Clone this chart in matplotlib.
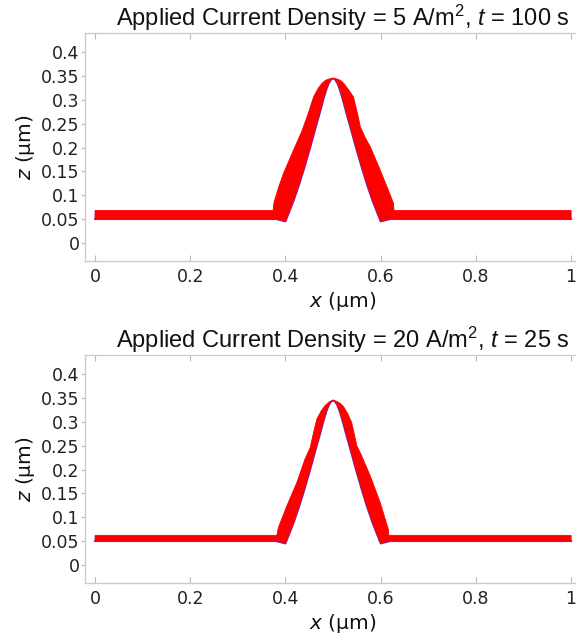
import matplotlib
matplotlib.use("Agg")
import matplotlib.pyplot as plt
from matplotlib.ticker import FuncFormatter

plt.rcParams["font.family"] = ["DejaVu Sans"]
plt.rcParams["mathtext.fontset"] = "custom"
plt.rcParams["mathtext.rm"] = "Liberation Sans"
plt.rcParams["mathtext.it"] = "Liberation Sans:italic"

# initial surface profile (blue), shared by both panels
inner_x = [0.0, 0.38, 0.392, 0.40, 0.408, 0.417, 0.428, 0.438, 0.452, 0.463, 0.472,
           0.48, 0.486, 0.491, 0.496, 0.5, 0.504, 0.509, 0.514, 0.52, 0.528, 0.537,
           0.548, 0.562, 0.572, 0.583, 0.592, 0.60, 0.608, 0.62, 1.0]
inner_z = [0.05, 0.05, 0.047, 0.045, 0.065, 0.088, 0.12, 0.152, 0.2, 0.24, 0.272,
           0.302, 0.322, 0.335, 0.343, 0.345, 0.343, 0.335, 0.322, 0.302, 0.272, 0.24,
           0.2, 0.152, 0.12, 0.088, 0.065, 0.045, 0.047, 0.05, 0.05]

# outer envelope of the evolving profiles (red band), 5 A/m^2
outer_x_5 = [0.0, 0.374, 0.376, 0.385, 0.396, 0.417, 0.434, 0.448, 0.459, 0.468, 0.476,
             0.484, 0.492, 0.5, 0.508, 0.515, 0.522, 0.532, 0.543, 0.548, 0.553, 0.557,
             0.567, 0.578, 0.599, 0.613, 0.627, 0.628, 1.0]
outer_z_5 = [0.068, 0.068, 0.085, 0.115, 0.146, 0.195, 0.233, 0.272, 0.306, 0.323, 0.334,
             0.341, 0.344, 0.345, 0.344, 0.341, 0.335, 0.322, 0.306, 0.285, 0.264, 0.244,
             0.222, 0.202, 0.153, 0.118, 0.083, 0.068, 0.068]

# outer envelope, 20 A/m^2
outer_x_20 = [0.0, 0.382, 0.385, 0.403, 0.424, 0.441, 0.452, 0.459, 0.466, 0.475, 0.483,
              0.492, 0.5, 0.508, 0.515, 0.522, 0.531, 0.539, 0.550, 0.560, 0.578, 0.599,
              0.616, 0.617, 1.0]
outer_z_20 = [0.062, 0.062, 0.078, 0.124, 0.173, 0.222, 0.246, 0.278, 0.306, 0.323, 0.334,
              0.342, 0.345, 0.343, 0.339, 0.332, 0.317, 0.299, 0.250, 0.229, 0.187, 0.131,
              0.075, 0.062, 0.062]

titles = [r"Applied Current Density = 5 A/m$^2$, $t$ = 100 s",
          r"Applied Current Density = 20 A/m$^2$, $t$ = 25 s"]
x_ticks = [0, 0.2, 0.4, 0.6, 0.8, 1.0]
z_ticks = [0, 0.05, 0.1, 0.15, 0.2, 0.25, 0.3, 0.35, 0.4]

fig = plt.figure(figsize=(5.76, 6.4), dpi=100)
ax_top = fig.add_axes([0.1476, 0.5922, 0.896, 0.356])
ax_bot = fig.add_axes([0.1476, 0.089, 0.896, 0.356])

fmt = FuncFormatter(lambda v, p: f"{v:g}")

for ax, ox, oz, title in [(ax_top, outer_x_5, outer_z_5, titles[0]),
                          (ax_bot, outer_x_20, outer_z_20, titles[1])]:
    # blue initial profile underneath, red band on top
    ax.plot(inner_x, inner_z, color="#4040ff", lw=1.4, zorder=2)
    poly_x = list(ox) + [1.0] + inner_x[::-1]
    poly_z = list(oz) + [inner_z[-1]] + inner_z[::-1]
    ax.fill(poly_x, poly_z, color="red", lw=0.6, zorder=3)

    ax.set_xlim(-0.021, 1.063)
    ax.set_ylim(-0.038, 0.44)
    ax.set_xticks(x_ticks)
    ax.set_yticks(z_ticks)
    ax.xaxis.set_major_formatter(fmt)
    ax.yaxis.set_major_formatter(fmt)
    ax.tick_params(axis="x", direction="in", top=True, length=4, color="#bbbbbb",
                   labelsize=12.5, labelcolor="#222222", pad=5)
    ax.tick_params(axis="y", direction="out", length=3, color="#bbbbbb",
                   labelsize=12.5, labelcolor="#222222", pad=1)
    for side in ["top", "bottom", "left"]:
        ax.spines[side].set_color("#cccccc")
        ax.spines[side].set_linewidth(1.0)
    ax.spines["right"].set_visible(False)

    ax.set_title(title, fontsize=17, family="Liberation Sans", color="#111111", pad=5)
    ax.set_xlabel(r"$x$ (μm)", fontsize=14.5, color="#111111", labelpad=3,
                  math_fontfamily="dejavusans")
    ax.set_ylabel(r"$z$ (μm)", fontsize=14.5, color="#111111", labelpad=3,
                  math_fontfamily="dejavusans")

fig.savefig("out.png", dpi=100)
